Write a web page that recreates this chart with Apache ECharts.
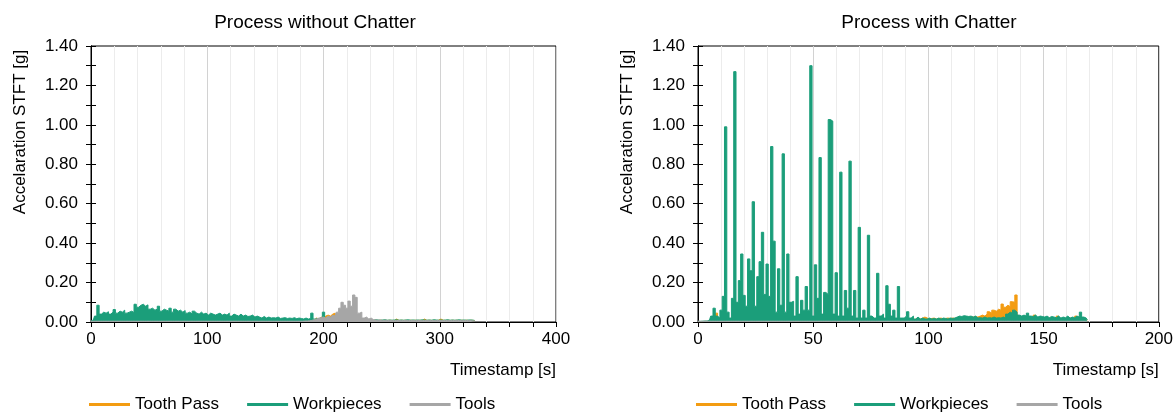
<!DOCTYPE html>
<html>
<head>
<meta charset="utf-8">
<script src="https://cdn.jsdelivr.net/npm/echarts@6/dist/echarts.min.js"></script>
<style>html,body{margin:0;padding:0;background:#fff}#c{width:1176px;height:412px}</style>
</head>
<body>
<div id="c"></div>
<script>
// ---- data ----
const seriesNames = ['Tooth Pass', 'Workpieces', 'Tools'];
const seriesColors = ['#f39c12', '#1b9e7a', '#a6a6a6'];
const chartTitles = ['Process without Chatter', 'Process with Chatter'];
const yAxisName = 'Accelaration STFT [g]';
const xAxisName = 'Timestamp [s]';

// left chart: samples every 2 s, from 0 s
const leftStep = 2;
const leftWorkpieces = [
  0.005, 0.01, 0.03, 0.085, 0.04, 0.05, 0.045, 0.052, 0.04, 0.05,
  0.063, 0.045, 0.055, 0.05, 0.06, 0.045, 0.05, 0.055, 0.048, 0.09,
  0.075, 0.085, 0.09, 0.08, 0.087, 0.065, 0.07, 0.06, 0.065, 0.08,
  0.055, 0.065, 0.06, 0.055, 0.07, 0.05, 0.065, 0.055, 0.06, 0.05,
  0.058, 0.045, 0.05, 0.04, 0.055, 0.045, 0.04, 0.05, 0.04, 0.045,
  0.035, 0.045, 0.04, 0.035, 0.04, 0.045, 0.035, 0.04, 0.035, 0.045,
  0.03, 0.04, 0.035, 0.03, 0.04, 0.03, 0.035, 0.028, 0.03, 0.035,
  0.025, 0.03, 0.025, 0.02, 0.028, 0.02, 0.025, 0.02, 0.022, 0.02,
  0.025, 0.018, 0.02, 0.022, 0.018, 0.02, 0.018, 0.022, 0.017, 0.02,
  0.018, 0.015, 0.02, 0.015, 0.018, 0.045, 0.015, 0.018, 0.012, 0.02,
  0.05, 0.015, 0.012, 0.015, 0.01, 0.012, 0.01, 0.012, 0.01, 0.011,
  0.01, 0.012, 0.01, 0.011, 0.01, 0.012, 0.01, 0.011, 0.01, 0.012,
  0.01, 0.009, 0.011, 0.01, 0.009, 0.01, 0.011, 0.009, 0.01, 0.009,
  0.01, 0.011, 0.009, 0.01, 0.009, 0.01, 0.011, 0.009, 0.01, 0.009,
  0.01, 0.009, 0.011, 0.01, 0.009, 0.01, 0.009, 0.011, 0.01, 0.009,
  0.01, 0.009, 0.01, 0.011, 0.009, 0.01, 0.009, 0.01, 0.011, 0.009,
  0.01, 0.009, 0.01, 0.01, 0.009, 0.008
];
const leftTools = [
  0.004, 0.004, 0.004, 0.004, 0.004, 0.004, 0.004, 0.004, 0.004, 0.004,
  0.004, 0.004, 0.004, 0.004, 0.004, 0.004, 0.004, 0.004, 0.004, 0.004,
  0.004, 0.004, 0.004, 0.004, 0.004, 0.004, 0.004, 0.004, 0.004, 0.004,
  0.004, 0.004, 0.004, 0.004, 0.004, 0.004, 0.004, 0.004, 0.004, 0.004,
  0.004, 0.004, 0.004, 0.004, 0.004, 0.004, 0.004, 0.004, 0.004, 0.004,
  0.004, 0.004, 0.004, 0.004, 0.004, 0.004, 0.004, 0.004, 0.004, 0.004,
  0.004, 0.004, 0.004, 0.004, 0.004, 0.004, 0.004, 0.004, 0.004, 0.004,
  0.004, 0.004, 0.004, 0.004, 0.004, 0.004, 0.004, 0.004, 0.004, 0.004,
  0.004, 0.004, 0.004, 0.004, 0.004, 0.004, 0.004, 0.004, 0.004, 0.004,
  0.004, 0.004, 0.005, 0.005, 0.006, 0.008, 0.012, 0.015, 0.02, 0.022,
  0.025, 0.02, 0.03, 0.025, 0.035, 0.03, 0.05, 0.07, 0.1, 0.085,
  0.07, 0.106, 0.08, 0.137, 0.125, 0.045, 0.05, 0.02, 0.025, 0.015,
  0.02, 0.012, 0.01, 0.009, 0.01, 0.008, 0.009, 0.008, 0.007, 0.008,
  0.007, 0.008, 0.007, 0.007, 0.008, 0.007, 0.007, 0.008, 0.007, 0.007,
  0.008, 0.007, 0.007, 0.008, 0.007, 0.007, 0.008, 0.007, 0.007, 0.008,
  0.007, 0.007, 0.008, 0.007, 0.007, 0.008, 0.007, 0.007, 0.008, 0.007,
  0.007, 0.008, 0.007, 0.007, 0.006, 0.006
];
const leftToothPass = [
  0.003, 0.003, 0.003, 0.003, 0.003, 0.003, 0.003, 0.003, 0.003, 0.003,
  0.003, 0.003, 0.003, 0.003, 0.003, 0.003, 0.003, 0.003, 0.003, 0.003,
  0.003, 0.003, 0.003, 0.003, 0.003, 0.003, 0.003, 0.003, 0.003, 0.003,
  0.003, 0.003, 0.003, 0.003, 0.003, 0.003, 0.003, 0.003, 0.003, 0.003,
  0.003, 0.003, 0.003, 0.003, 0.003, 0.003, 0.003, 0.003, 0.003, 0.003,
  0.003, 0.003, 0.003, 0.003, 0.003, 0.003, 0.003, 0.003, 0.003, 0.003,
  0.003, 0.003, 0.003, 0.003, 0.003, 0.003, 0.003, 0.003, 0.003, 0.003,
  0.003, 0.003, 0.003, 0.003, 0.003, 0.003, 0.003, 0.003, 0.003, 0.003,
  0.003, 0.003, 0.003, 0.003, 0.003, 0.003, 0.003, 0.003, 0.003, 0.003,
  0.003, 0.003, 0.003, 0.003, 0.003, 0.005, 0.01, 0.02, 0.015, 0.025,
  0.02, 0.03, 0.035, 0.03, 0.04, 0.045, 0.03, 0.02, 0.015, 0.01,
  0.01, 0.009, 0.01, 0.009, 0.01, 0.009, 0.01, 0.009, 0.01, 0.009,
  0.009, 0.008, 0.009, 0.008, 0.009, 0.008, 0.009, 0.008, 0.009, 0.008,
  0.008, 0.015, 0.008, 0.009, 0.008, 0.009, 0.008, 0.009, 0.008, 0.009,
  0.008, 0.009, 0.008, 0.015, 0.008, 0.009, 0.008, 0.009, 0.008, 0.009,
  0.015, 0.009, 0.008, 0.009, 0.008, 0.009, 0.008, 0.009, 0.008, 0.009,
  0.008, 0.009, 0.008, 0.009, 0.008, 0.007
];

// right chart: samples every 1 s, from 0 s
const rightStep = 1;
const rightWorkpieces = [
  0.003, 0.003, 0.004, 0.005, 0.005, 0.01, 0.03, 0.07, 0.03, 0.02,
  0.06, 0.13, 0.99, 0.05, 0.02, 0.12, 1.27, 0.10, 0.21, 0.345,
  0.135, 0.08, 0.32, 0.26, 0.61, 0.08, 0.23, 0.306, 0.455, 0.14,
  0.294, 0.13, 0.89, 0.41, 0.05, 0.27, 0.085, 0.853, 0.05, 0.345,
  0.10, 0.105, 0.03, 0.23, 0.04, 0.11, 0.06, 0.18, 0.06, 1.30,
  0.03, 0.29, 0.12, 0.834, 0.04, 0.15, 0.14, 1.027, 1.019, 0.04,
  0.25, 0.03, 0.76, 0.03, 0.16, 0.07, 0.816, 0.03, 0.16, 0.02,
  0.48, 0.02, 0.06, 0.02, 0.44, 0.03, 0.02, 0.02, 0.247, 0.03,
  0.04, 0.02, 0.184, 0.09, 0.03, 0.06, 0.02, 0.18, 0.02, 0.02,
  0.03, 0.052, 0.02, 0.03, 0.015, 0.025, 0.015, 0.02, 0.015, 0.015,
  0.02, 0.015, 0.018, 0.015, 0.02, 0.015, 0.02, 0.018, 0.015, 0.02,
  0.018, 0.02, 0.025, 0.03, 0.028, 0.032, 0.03, 0.028, 0.03, 0.025,
  0.03, 0.02, 0.022, 0.02, 0.025, 0.02, 0.022, 0.02, 0.025, 0.02,
  0.022, 0.02, 0.025, 0.02, 0.04, 0.05, 0.045, 0.06, 0.05, 0.035,
  0.03, 0.035, 0.03, 0.045, 0.03, 0.028, 0.035, 0.025, 0.03, 0.028,
  0.025, 0.03, 0.022, 0.028, 0.025, 0.022, 0.03, 0.02, 0.025, 0.022,
  0.03, 0.02, 0.025, 0.022, 0.03, 0.025, 0.05, 0.025, 0.02, 0.01
];
const rightToothPass = [
  0.002, 0.002, 0.002, 0.003, 0.003, 0.005, 0.01, 0.02, 0.045, 0.01,
  0.005, 0.005, 0.005, 0.005, 0.005, 0.005, 0.005, 0.005, 0.005, 0.005,
  0.005, 0.005, 0.005, 0.005, 0.005, 0.005, 0.005, 0.005, 0.005, 0.005,
  0.005, 0.005, 0.005, 0.005, 0.005, 0.005, 0.005, 0.005, 0.005, 0.005,
  0.005, 0.005, 0.005, 0.005, 0.005, 0.005, 0.005, 0.005, 0.005, 0.005,
  0.005, 0.005, 0.005, 0.005, 0.005, 0.005, 0.005, 0.005, 0.005, 0.005,
  0.005, 0.005, 0.005, 0.005, 0.005, 0.005, 0.005, 0.005, 0.005, 0.005,
  0.005, 0.005, 0.005, 0.005, 0.005, 0.005, 0.005, 0.005, 0.005, 0.005,
  0.005, 0.005, 0.005, 0.005, 0.005, 0.005, 0.005, 0.005, 0.005, 0.005,
  0.005, 0.008, 0.01, 0.012, 0.015, 0.018, 0.015, 0.02, 0.025, 0.02,
  0.015, 0.018, 0.02, 0.015, 0.018, 0.02, 0.015, 0.018, 0.02, 0.018,
  0.02, 0.018, 0.02, 0.022, 0.02, 0.022, 0.02, 0.025, 0.022, 0.025,
  0.027, 0.025, 0.03, 0.035, 0.03, 0.04, 0.052, 0.045, 0.06, 0.055,
  0.065, 0.06, 0.091, 0.075, 0.085, 0.078, 0.103, 0.1, 0.137, 0.01,
  0.012, 0.015, 0.012, 0.02, 0.015, 0.012, 0.035, 0.015, 0.012, 0.018,
  0.015, 0.012, 0.02, 0.015, 0.018, 0.012, 0.03, 0.015, 0.018, 0.012,
  0.015, 0.02, 0.012, 0.018, 0.03, 0.015, 0.02, 0.015, 0.012, 0.01
];
const rightTools = [
  0.004, 0.004, 0.004, 0.004, 0.004, 0.004, 0.004, 0.004, 0.004, 0.004,
  0.004, 0.004, 0.004, 0.004, 0.004, 0.004, 0.004, 0.004, 0.004, 0.004,
  0.004, 0.004, 0.004, 0.004, 0.004, 0.004, 0.004, 0.004, 0.004, 0.004,
  0.004, 0.004, 0.004, 0.004, 0.004, 0.004, 0.004, 0.004, 0.004, 0.004,
  0.004, 0.004, 0.004, 0.004, 0.004, 0.004, 0.004, 0.004, 0.004, 0.004,
  0.004, 0.004, 0.004, 0.004, 0.004, 0.004, 0.004, 0.004, 0.004, 0.004,
  0.004, 0.004, 0.004, 0.004, 0.004, 0.004, 0.004, 0.004, 0.004, 0.004,
  0.004, 0.004, 0.004, 0.004, 0.004, 0.004, 0.004, 0.004, 0.004, 0.004,
  0.004, 0.004, 0.004, 0.004, 0.004, 0.004, 0.004, 0.004, 0.004, 0.004,
  0.004, 0.004, 0.004, 0.004, 0.004, 0.004, 0.004, 0.004, 0.004, 0.004,
  0.004, 0.004, 0.004, 0.004, 0.004, 0.004, 0.004, 0.004, 0.004, 0.004,
  0.004, 0.004, 0.004, 0.004, 0.004, 0.004, 0.004, 0.004, 0.004, 0.004,
  0.004, 0.004, 0.004, 0.004, 0.004, 0.004, 0.004, 0.004, 0.004, 0.004,
  0.004, 0.004, 0.004, 0.004, 0.004, 0.004, 0.004, 0.004, 0.004, 0.004,
  0.004, 0.004, 0.004, 0.004, 0.004, 0.004, 0.004, 0.004, 0.004, 0.004,
  0.004, 0.004, 0.004, 0.004, 0.004, 0.004, 0.004, 0.004, 0.004, 0.004,
  0.004, 0.004, 0.004, 0.004, 0.004, 0.004, 0.004, 0.004, 0.004, 0.004
];

const xRanges = [{ max: 400, interval: 100 }, { max: 200, interval: 50 }];
const yRange = { min: 0, max: 1.4, interval: 0.2 };

// ---- chart ----
const FONT = 'Liberation Sans, Arial, Helvetica, sans-serif';
const BLACK = '#000';
function pairs(vals, step) { return vals.map((v, i) => [i * step, v]); }

const grids = [
  { left: 91, right: 620, top: 46, bottom: 90, show: true, borderColor: BLACK, borderWidth: 1, backgroundColor: 'transparent' },
  { left: 698, right: 14, top: 46, bottom: 90, show: true, borderColor: BLACK, borderWidth: 1, backgroundColor: 'transparent' }
];

function xAxisFor(i) {
  return {
    type: 'value', gridIndex: i, min: 0, max: xRanges[i].max, interval: xRanges[i].interval,
    axisLine: { show: true, onZero: false, lineStyle: { color: BLACK, width: 1 } },
    axisTick: { show: true, length: 5, lineStyle: { color: BLACK } },
    minorTick: { show: true, splitNumber: 5, length: 5, lineStyle: { color: BLACK } },
    splitLine: { show: true, lineStyle: { color: '#d2d2d2', width: 1 } },
    minorSplitLine: { show: true, lineStyle: { color: '#ececec', width: 1 } },
    axisLabel: { fontSize: 17, color: BLACK, fontFamily: FONT, margin: 9 },
    name: xAxisName, nameLocation: 'end', nameGap: 0,
    nameTextStyle: { fontSize: 17, color: BLACK, fontFamily: FONT, align: 'right', verticalAlign: 'top', padding: [40, 0, 0, 0] }
  };
}
function yAxisFor(i, inner) {
  const ax = {
    type: 'value', gridIndex: i, position: 'left', offset: 0,
    min: yRange.min, max: yRange.max, interval: yRange.interval,
    axisLine: { show: true, onZero: false, lineStyle: { color: BLACK, width: 1 } },
    axisTick: { show: true, inside: inner, length: 5, lineStyle: { color: BLACK } },
    minorTick: { show: true, splitNumber: 2, length: 5, lineStyle: { color: BLACK } },
    splitLine: { show: false },
    axisLabel: { show: !inner, fontSize: 17, color: BLACK, fontFamily: FONT, margin: 13, formatter: v => v.toFixed(2) }
  };
  if (!inner) {
    ax.name = yAxisName;
    ax.nameLocation = 'middle';
    ax.nameGap = 62;
    ax.nameTextStyle = { fontSize: 17, color: BLACK, fontFamily: FONT, padding: [0, 0, 0, 104] };
  }
  return ax;
}

const chartData = [
  [leftToothPass, leftWorkpieces, leftTools, leftStep],
  [rightToothPass, rightWorkpieces, rightTools, rightStep]
];
const series = [];
chartData.forEach((d, gi) => {
  for (let k = 0; k < 3; k++) {
    series.push({
      name: seriesNames[k], type: 'line', xAxisIndex: gi, yAxisIndex: gi * 2,
      data: pairs(d[k], d[3]), symbol: 'none', showSymbol: false, step: 'middle',
      lineStyle: { color: seriesColors[k], width: 1 },
      itemStyle: { color: seriesColors[k] },
      areaStyle: { color: seriesColors[k], opacity: 1 },
      z: 2 + k
    });
  }
});

function legendFor(left) {
  return {
    left: left, top: 396, padding: 0, itemWidth: 41, itemHeight: 3, itemGap: 28,
    icon: 'rect',
    data: seriesNames, selectedMode: false,
    textStyle: { fontSize: 17, color: BLACK, fontFamily: FONT }
  };
}

const option = {
  animation: false,
  backgroundColor: '#fff',
  textStyle: { fontFamily: FONT },
  title: [
    { text: chartTitles[0], left: 315, top: 13, padding: 0, textAlign: 'center', textStyle: { fontSize: 19, fontWeight: 'normal', color: BLACK, fontFamily: FONT } },
    { text: chartTitles[1], left: 929, top: 13, padding: 0, textAlign: 'center', textStyle: { fontSize: 19, fontWeight: 'normal', color: BLACK, fontFamily: FONT } }
  ],
  legend: [legendFor(89), legendFor(696)],
  grid: grids,
  xAxis: [xAxisFor(0), xAxisFor(1)],
  yAxis: [yAxisFor(0, false), yAxisFor(0, true), yAxisFor(1, false), yAxisFor(1, true)],
  series: series
};

const chart = echarts.init(document.getElementById('c'), null, { renderer: 'canvas' });
chart.setOption(option);
</script>
</body>
</html>
